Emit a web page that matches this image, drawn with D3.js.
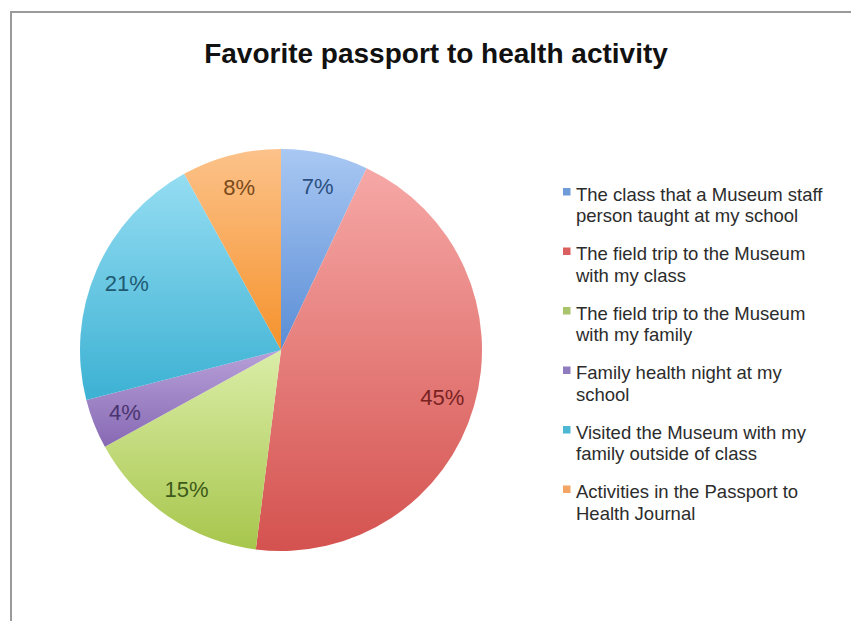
<!DOCTYPE html>
<html>
<head>
<meta charset="utf-8">
<script src="https://cdn.jsdelivr.net/npm/d3@7/dist/d3.min.js"></script>
<style>
  html, body { margin: 0; padding: 0; background: #fff; }
  svg { display: block; font-family: "Liberation Sans", Arial, Helvetica, sans-serif; }
</style>
</head>
<body>
<svg id="chart" width="851" height="621"></svg>
<script>
// Survey answers, in clockwise order from 12 o'clock
const categories = [
  "The class that a Museum staff person taught at my school",
  "The field trip to the Museum with my class",
  "The field trip to the Museum with my family",
  "Family health night at my school",
  "Visited the Museum with my family outside of class",
  "Activities in the Passport to Health Journal"
];
const legendLines = [
  ["The class that a Museum staff", "person taught at my school"],
  ["The field trip to the Museum", "with my class"],
  ["The field trip to the Museum", "with my family"],
  ["Family health night at my", "school"],
  ["Visited the Museum with my", "family outside of class"],
  ["Activities in the Passport to", "Health Journal"]
];
const percents = [7, 45, 15, 4, 21, 8];

// Slice shading: light top, dark bottom; legend swatch; label ink
const topColors    = ["#a9c8f3", "#f6a8a6", "#dbeda8", "#b7a0d8", "#95ddf2", "#fcc28a"];
const bottomColors = ["#5a8dd5", "#d4524f", "#a7c64c", "#8769b4", "#3cb1d3", "#f5922c"];
const swatchColors = ["#6f9bd9", "#d9605e", "#a9c46b", "#8f7cbf", "#4cb8d3", "#f4a463"];
const labelColors  = ["#2b4f80", "#7a2222", "#3d5a1a", "#4a3470", "#1f5a72", "#7a4a1a"];

const svg = d3.select("#chart");

// Frame of the chart area
svg.append("rect")
  .attr("x", 11).attr("y", 12)
  .attr("width", 900).attr("height", 700)
  .attr("fill", "none")
  .attr("stroke", "#9a9a9a")
  .attr("stroke-width", 2);

// Title
svg.append("text")
  .attr("x", 436).attr("y", 63)
  .attr("text-anchor", "middle")
  .attr("font-size", 28)
  .attr("font-weight", "bold")
  .attr("fill", "#111")
  .text("Favorite passport to health activity");

// Gradients per slice
const defs = svg.append("defs");
categories.forEach((c, i) => {
  const g = defs.append("linearGradient")
    .attr("id", "grad" + i)
    .attr("x1", 0).attr("y1", 0).attr("x2", 0).attr("y2", 1);
  g.append("stop").attr("offset", "0%").attr("stop-color", topColors[i]);
  g.append("stop").attr("offset", "100%").attr("stop-color", bottomColors[i]);
});

const cx = 281, cy = 350, radius = 201;
const pie = d3.pie().value(d => d).sort(null);
const arc = d3.arc().innerRadius(0).outerRadius(radius);
const labelArc = d3.arc().innerRadius(168).outerRadius(168);
const arcs = pie(percents);

const gPie = svg.append("g").attr("transform", `translate(${cx},${cy})`);

gPie.selectAll("path.slice")
  .data(arcs)
  .join("path")
  .attr("class", "slice")
  .attr("d", arc)
  .attr("fill", (d, i) => `url(#grad${i})`);

gPie.selectAll("text.pct")
  .data(arcs)
  .join("text")
  .attr("class", "pct")
  .attr("transform", d => `translate(${labelArc.centroid(d)})`)
  .attr("text-anchor", "middle")
  .attr("dy", "0.36em")
  .attr("font-size", 22)
  .attr("fill", (d, i) => labelColors[i])
  .text(d => d.data + "%");

// Legend
const legend = svg.append("g");
const legendY = d3.scaleLinear().domain([0, 5]).range([200.5, 498]);

const items = legend.selectAll("g.item")
  .data(categories)
  .join("g")
  .attr("class", "item")
  .attr("transform", (d, i) => `translate(0,${legendY(i)})`);

items.append("rect")
  .attr("x", 563).attr("y", -12.5)
  .attr("width", 7.5).attr("height", 7.5)
  .attr("fill", (d, i) => swatchColors[i]);

items.append("text")
  .attr("x", 576)
  .attr("font-size", 18.5)
  .attr("fill", "#2c2c2c")
  .selectAll("tspan")
  .data((d, i) => legendLines[i])
  .join("tspan")
  .attr("x", 576)
  .attr("y", (d, j) => j * 21.5)
  .text(d => d);
</script>
</body>
</html>
